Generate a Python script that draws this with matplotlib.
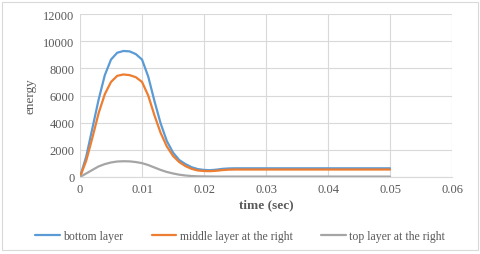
import matplotlib

matplotlib.use("Agg")
import matplotlib.pyplot as plt
from matplotlib.patches import Rectangle

# data (time in seconds)
time = [0.000, 0.001, 0.002, 0.003, 0.004, 0.005, 0.006, 0.007, 0.008, 0.009,
        0.010, 0.011, 0.012, 0.013, 0.014, 0.015, 0.016, 0.017, 0.018, 0.019,
        0.020, 0.021, 0.022, 0.023, 0.024, 0.025, 0.030, 0.035, 0.040, 0.045, 0.050]
bottom_layer = [0, 1500, 3600, 5700, 7500, 8650, 9150, 9280, 9250, 9050,
                8650, 7400, 5600, 3950, 2650, 1800, 1250, 950, 720, 580,
                520, 500, 540, 600, 630, 640, 640, 640, 640, 640, 640]
middle_layer = [0, 1200, 2900, 4700, 6100, 7000, 7450, 7550, 7500, 7350,
                7000, 6000, 4550, 3250, 2250, 1550, 1100, 800, 600, 480,
                440, 430, 460, 510, 540, 550, 550, 550, 550, 550, 550]
top_layer = [0, 260, 520, 780, 950, 1070, 1140, 1160, 1150, 1100,
             1020, 880, 700, 520, 370, 260, 170, 110, 70, 50,
             40, 35, 30, 30, 30, 30, 30, 30, 30, 30, 30]
series_names = ["bottom layer", "middle layer at the right", "top layer at the right"]
x_ticks = [0, 0.01, 0.02, 0.03, 0.04, 0.05, 0.06]
x_tick_labels = ["0", "0.01", "0.02", "0.03", "0.04", "0.05", "0.06"]
y_ticks = [0, 2000, 4000, 6000, 8000, 10000, 12000]

plt.rcParams["font.family"] = ["Liberation Serif", "DejaVu Serif"]
TEXT = "#595959"
GRID = "#d9d9d9"

fig = plt.figure(figsize=(4.8, 2.55), dpi=100)
fig.patches.append(Rectangle((0.005, 0.015), 0.99, 0.975, transform=fig.transFigure,
                             fill=False, edgecolor="#d9d9d9", lw=0.8))
ax = fig.add_axes([0.1667, 0.302, 0.775, 0.639])

colors = ["#5b9bd5", "#ed7d31", "#a5a5a5"]
for vals, name, c in zip([bottom_layer, middle_layer, top_layer], series_names, colors):
    ax.plot(time, vals, color=c, lw=1.6, label=name, solid_capstyle="round",
            solid_joinstyle="round")

ax.set_xlim(0, 0.06)
ax.set_ylim(0, 12000)
ax.set_xticks(x_ticks)
ax.set_xticklabels(x_tick_labels)
ax.set_yticks(y_ticks)
ax.grid(True, color=GRID, lw=0.8)
ax.set_axisbelow(True)
for side in ["top", "right", "left"]:
    ax.spines[side].set_visible(False)
ax.spines["bottom"].set_color(GRID)
ax.tick_params(length=0, labelsize=9, colors=TEXT, pad=4)
ax.set_xlabel("time (sec)", fontsize=9.5, color=TEXT, fontweight="bold", labelpad=3)
ax.set_ylabel("energy", fontsize=9.5, color=TEXT, labelpad=5)

fig.legend(loc="center", bbox_to_anchor=(0.5, 1 - 237 / 255), ncol=3, frameon=False,
           fontsize=8.5, labelcolor=TEXT, handlelength=2.1, columnspacing=2.4, handletextpad=0.3)

fig.savefig("out.png", dpi=100)
